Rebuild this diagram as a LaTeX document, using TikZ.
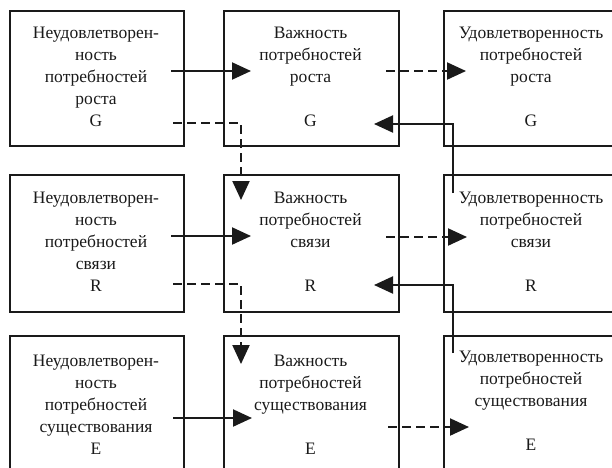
\documentclass[tikz,border=0pt]{standalone}
\usepackage{fontspec}
\setmainfont{Liberation Serif}
\usetikzlibrary{arrows.meta}
\definecolor{ink}{HTML}{1A1A1A}
\begin{document}
\begin{tikzpicture}[x=1pt,y=-1pt,
  box/.style={draw=ink,line width=2.2pt,rectangle,inner sep=0,anchor=north west},
  txt/.style={anchor=north,inner sep=0,align=center,text=ink,font=\fontsize{17.5}{22}\selectfont},
  solidarr/.style={draw=ink,line width=2.1pt,-{Triangle[length=19pt,width=17pt]}},
  dasharr/.style={draw=ink,line width=2.1pt,dash pattern=on 9pt off 5pt,-{Triangle[length=19pt,width=17pt]}}]
\useasboundingbox (0,0) rectangle (612,467);
\fill[white] (0,0) rectangle (612,467);
\clip (0,0) rectangle (612,467);
% boxes
\node[box,minimum width=174pt,minimum height=135pt] (L1) at (9,10) {};
\node[box,minimum width=175pt,minimum height=135pt] (M1) at (223,10) {};
\node[box,minimum width=176pt,minimum height=135pt] (R1) at (443,10) {};
\node[box,minimum width=174pt,minimum height=137pt] (L2) at (9,174) {};
\node[box,minimum width=175pt,minimum height=137pt] (M2) at (223,174) {};
\node[box,minimum width=176pt,minimum height=137pt] (R2) at (443,174) {};
\node[box,minimum width=174pt,minimum height=145pt] (L3) at (9,335) {};
\node[box,minimum width=175pt,minimum height=145pt] (M3) at (223,335) {};
\node[box,minimum width=176pt,minimum height=145pt] (R3) at (443,335) {};
% texts
\node[txt] (tL1) at (96,27) {Неудовлетворен-\\ность\\потребностей\\роста\\G};
\node[txt] (tM1) at (310.5,27) {Важность\\потребностей\\роста\\\strut\\G};
\node[txt] (tR1) at (531,27) {Удовлетворенность\\потребностей\\роста\\\strut\\G};
\node[txt] (tL2) at (96,192) {Неудовлетворен-\\ность\\потребностей\\связи\\R};
\node[txt] (tM2) at (310.5,192) {Важность\\потребностей\\связи\\\strut\\R};
\node[txt] (tR2) at (531,192) {Удовлетворенность\\потребностей\\связи\\\strut\\R};
\node[txt] (tL3) at (96,355) {Неудовлетворен-\\ность\\потребностей\\существования\\E};
\node[txt] (tM3) at (310.5,355) {Важность\\потребностей\\существования\\\strut\\E};
\node[txt] (tR3) at (531,351) {Удовлетворенность\\потребностей\\существования\\\strut\\E};
% connector end points
\coordinate (a1s) at (171,71);  \coordinate (a1e) at (251,71);
\coordinate (b1s) at (386,71);  \coordinate (b1e) at (466,71);
\coordinate (c1s) at (173,123); \coordinate (c1k) at (241,123); \coordinate (c1e) at (241,200);
\coordinate (d1s) at (453,193); \coordinate (d1k) at (453,124); \coordinate (d1e) at (374,124);
\coordinate (a2s) at (171,236); \coordinate (a2e) at (251,236);
\coordinate (b2s) at (386,237); \coordinate (b2e) at (467,237);
\coordinate (c2s) at (173,284); \coordinate (c2k) at (241,284); \coordinate (c2e) at (241,364);
\coordinate (d2s) at (453,353); \coordinate (d2k) at (453,285); \coordinate (d2e) at (374,285);
\coordinate (a3s) at (173,418); \coordinate (a3e) at (252,418);
\coordinate (b3s) at (388,427); \coordinate (b3e) at (469,427);
% connectors
\draw[solidarr] (a1s) -- (a1e);
\draw[dasharr] (b1s) -- (b1e);
\draw[dasharr] (c1s) -- (c1k) -- (c1e);
\draw[solidarr] (d1s) -- (d1k) -- (d1e);
\draw[solidarr] (a2s) -- (a2e);
\draw[dasharr] (b2s) -- (b2e);
\draw[dasharr] (c2s) -- (c2k) -- (c2e);
\draw[solidarr] (d2s) -- (d2k) -- (d2e);
\draw[solidarr] (a3s) -- (a3e);
\draw[dasharr] (b3s) -- (b3e);
\end{tikzpicture}
\end{document}
